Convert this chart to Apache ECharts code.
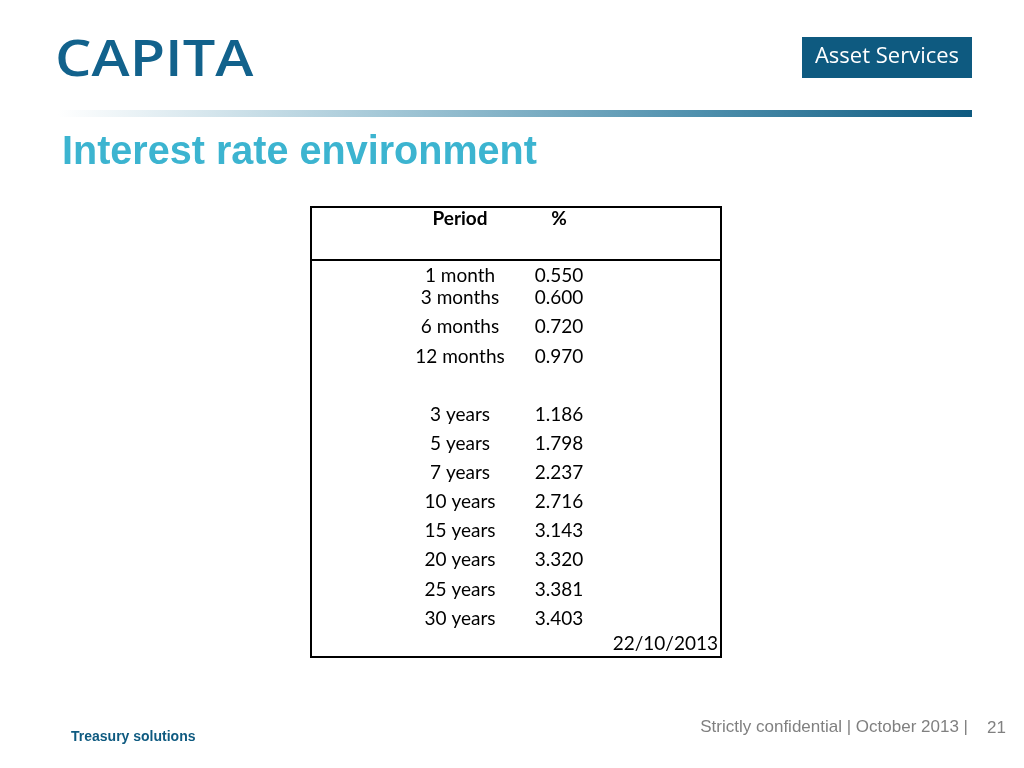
<!DOCTYPE html>
<html>
<head>
<meta charset="utf-8">
<script src="https://cdn.jsdelivr.net/npm/echarts@6/dist/echarts.min.js"></script>
<style>
html,body{margin:0;padding:0;background:#fff;}
#c{width:1024px;height:768px;}
</style>
</head>
<body>
<div id="c"></div>
<script>
// Data
var columns = ['Period', '%'];
var periods = ['1 month', '3 months', '6 months', '12 months', ' ', '3 years', '5 years', '7 years', '10 years', '15 years', '20 years', '25 years', '30 years'];
var rates = [0.550, 0.600, 0.720, 0.970, null, 1.186, 1.798, 2.237, 2.716, 3.143, 3.320, 3.381, 3.403];
var asOfDate = '22/10/2013';

var TEAL = '#0e5a80';
var FONT = 'Lato, "Open Sans", sans-serif';
var FIRST_ROW_SHIFT = 7; // first row sits tight against the second in the original

var chart = echarts.init(document.getElementById('c'));

function rowLabel(i) {
  return i === 0 ? { offset: [0, FIRST_ROW_SHIFT] } : undefined;
}
var periodData = [];
var rateData = [];
periods.forEach(function (p, i) {
  if (p.trim()) periodData.push({ value: [columns[0], p], label: rowLabel(i) });
  if (rates[i] != null) rateData.push({ value: [columns[1], p, rates[i]], label: rowLabel(i) });
});

var cellLabel = {
  show: true, position: 'inside', color: '#000', fontFamily: FONT, fontSize: 19,
  textBorderWidth: 0, textBorderColor: 'transparent', opacity: 1
};

var option = {
  backgroundColor: '#fff',
  animation: false,
  grid: { left: 410.5, width: 198, top: 254.4, height: 378.8 },
  xAxis: {
    type: 'category', data: columns, position: 'top',
    axisLine: { show: false }, axisTick: { show: false }, splitLine: { show: false },
    axisLabel: { margin: 26, color: '#000', fontFamily: FONT, fontWeight: 'bold', fontSize: 19 }
  },
  yAxis: {
    type: 'category', data: periods, inverse: true,
    axisLine: { show: false }, axisTick: { show: false }, axisLabel: { show: false }, splitLine: { show: false }
  },
  series: [
    {
      type: 'scatter', data: periodData, symbolSize: 0, silent: true,
      itemStyle: { color: '#000', opacity: 1 },
      label: Object.assign({}, cellLabel, { formatter: function (p) { return p.value[1]; } })
    },
    {
      type: 'scatter', data: rateData, symbolSize: 0, silent: true,
      itemStyle: { color: '#000', opacity: 1 },
      label: Object.assign({}, cellLabel, { formatter: function (p) { return p.value[2].toFixed(3); } })
    }
  ],
  graphic: [
    // logo
    { type: 'text', x: 55, y: 61, scaleX: 1.13, style: { text: 'CAPITA', fill: '#12628c', font: '600 51px "Open Sans", sans-serif', verticalAlign: 'middle' } },
    { type: 'rect', shape: { x: 802, y: 37, width: 170, height: 41 }, style: { fill: TEAL } },
    { type: 'text', x: 887, y: 57, style: { text: 'Asset Services', fill: '#fff', font: '22px "Open Sans", sans-serif', align: 'center', verticalAlign: 'middle' } },
    // gradient bar
    { type: 'rect', shape: { x: 58, y: 110, width: 914, height: 7 },
      style: { fill: new echarts.graphic.LinearGradient(0, 0, 1, 0, [
        { offset: 0, color: '#ffffff' }, { offset: 0.35, color: '#a6c9d8' }, { offset: 0.7, color: '#4f90ad' }, { offset: 1, color: TEAL }]) } },
    // title
    { type: 'text', x: 62, y: 153, scaleX: 0.965, style: { text: 'Interest rate environment', fill: '#3cb4d0', font: 'bold 41px "Liberation Sans", Arial, sans-serif', verticalAlign: 'middle' } },
    // table box
    { type: 'rect', shape: { x: 311, y: 207, width: 410, height: 450 }, style: { fill: 'none', stroke: '#000', lineWidth: 2 } },
    { type: 'line', shape: { x1: 311, y1: 260, x2: 721, y2: 260 }, style: { stroke: '#000', lineWidth: 2 } },
    { type: 'text', x: 718, y: 644, style: { text: asOfDate, fill: '#000', font: '19px ' + FONT, align: 'right', verticalAlign: 'middle' } },
    // footer
    { type: 'text', x: 71, y: 737, style: { text: 'Treasury solutions', fill: TEAL, font: 'bold 14px "Liberation Sans", Arial, sans-serif', verticalAlign: 'middle' } },
    { type: 'text', x: 968, y: 727, style: { text: 'Strictly confidential | October 2013 |', fill: '#808080', font: '17px "Liberation Sans", Arial, sans-serif', align: 'right', verticalAlign: 'middle' } },
    { type: 'text', x: 1006, y: 728, style: { text: '21', fill: '#808080', font: '17px "Liberation Sans", Arial, sans-serif', align: 'right', verticalAlign: 'middle' } }
  ]
};
chart.setOption(option);
</script>
</body>
</html>
